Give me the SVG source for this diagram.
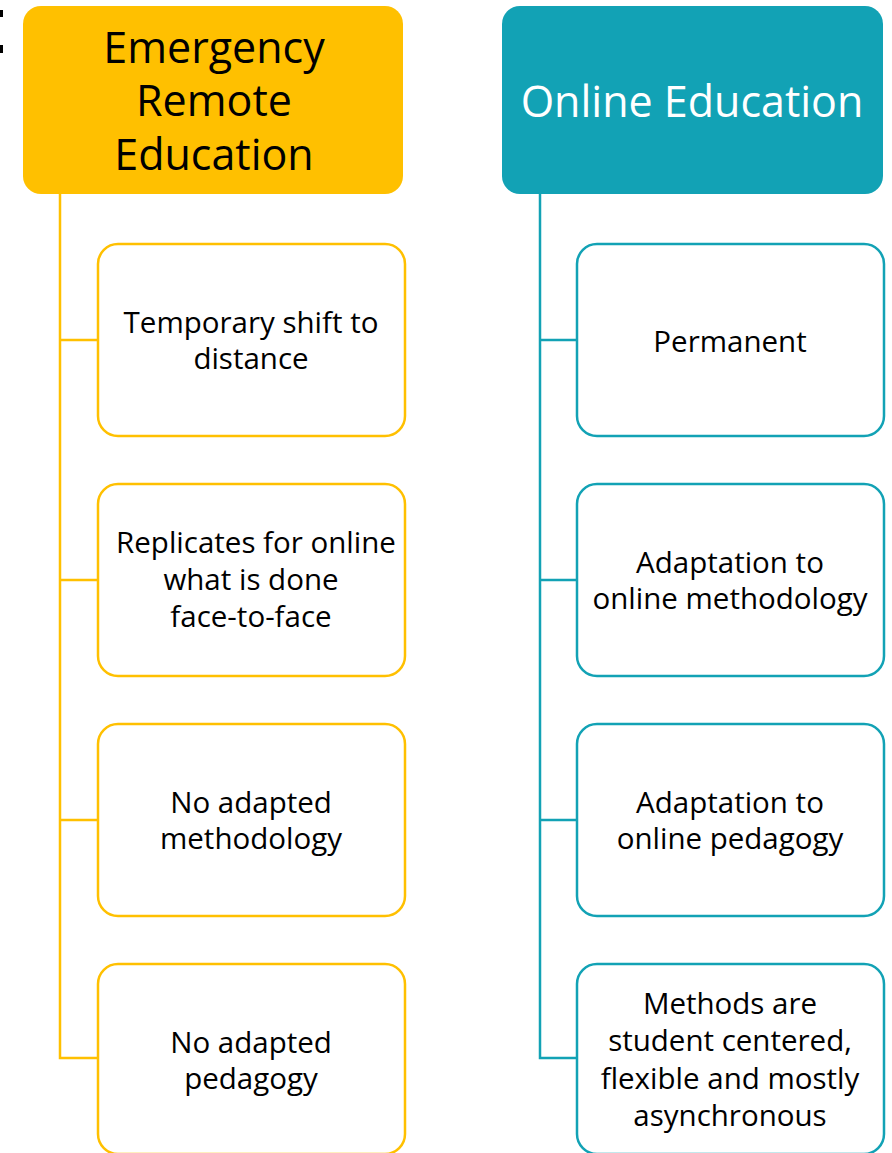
<svg xmlns="http://www.w3.org/2000/svg" width="892" height="1153" viewBox="0 0 892 1153">
<style>
.hy{fill:#FFC000}
.ht{fill:#12A2B5}
.cy{fill:#fff;stroke:#FFC000;stroke-width:2.5}
.ct{fill:#fff;stroke:#12A2B5;stroke-width:2.5}
.ly{fill:none;stroke:#FFC000;stroke-width:2.5}
.lt{fill:none;stroke:#12A2B5;stroke-width:2.5}
text{font-family:"Open Sans","Noto Sans","DejaVu Sans",sans-serif;text-anchor:middle}
.h{font-size:43px}
.c{font-size:29.5px;fill:#000}
</style>
<rect x="0" y="10" width="3" height="7" fill="#000"/>
<rect x="0" y="45" width="3" height="8" fill="#000"/>
<g id="connectors">
<path class="ly" d="M60,194 V1058 H98 M60,340 H98 M60,580 H98 M60,820 H98"/>
<path class="lt" d="M540,194 V1058 H577 M540,340 H577 M540,580 H577 M540,820 H577"/>
</g>
<g id="ere">
<rect class="hy" x="23" y="6" width="380" height="188" rx="18"/>
<text class="h" x="214" y="63">Emergency</text>
<text class="h" x="214" y="116">Remote</text>
<text class="h" x="214" y="170">Education</text>
</g>
<g id="oe">
<rect class="ht" x="502" y="6" width="381" height="188" rx="18"/>
<text class="h" x="692" y="117" fill="#fff">Online Education</text>
</g>
<g id="ere1">
<rect class="cy" x="98" y="244" width="307" height="192" rx="20"/>
<text class="c" x="251" y="333">Temporary shift to</text>
<text class="c" x="251" y="369">distance</text>
</g>
<g id="ere2">
<rect class="cy" x="98" y="484" width="307" height="192" rx="20"/>
<text class="c" x="256" y="553">Replicates for online</text>
<text class="c" x="251" y="590">what is done</text>
<text class="c" x="251" y="627">face-to-face</text>
</g>
<g id="ere3">
<rect class="cy" x="98" y="724" width="307" height="192" rx="20"/>
<text class="c" x="251" y="813">No adapted</text>
<text class="c" x="251" y="849">methodology</text>
</g>
<g id="ere4">
<rect class="cy" x="98" y="964" width="307" height="190" rx="20"/>
<text class="c" x="251" y="1053">No adapted</text>
<text class="c" x="251" y="1089">pedagogy</text>
</g>
<g id="oe1">
<rect class="ct" x="577" y="244" width="307" height="192" rx="20"/>
<text class="c" x="730" y="352">Permanent</text>
</g>
<g id="oe2">
<rect class="ct" x="577" y="484" width="307" height="192" rx="20"/>
<text class="c" x="730" y="573">Adaptation to</text>
<text class="c" x="730" y="609">online methodology</text>
</g>
<g id="oe3">
<rect class="ct" x="577" y="724" width="307" height="192" rx="20"/>
<text class="c" x="730" y="813">Adaptation to</text>
<text class="c" x="730" y="849">online pedagogy</text>
</g>
<g id="oe4">
<rect class="ct" x="577" y="964" width="307" height="190" rx="20"/>
<text class="c" x="730" y="1014">Methods are</text>
<text class="c" x="730" y="1051">student centered,</text>
<text class="c" x="730" y="1089">flexible and mostly</text>
<text class="c" x="730" y="1126">asynchronous</text>
</g>
</svg>
